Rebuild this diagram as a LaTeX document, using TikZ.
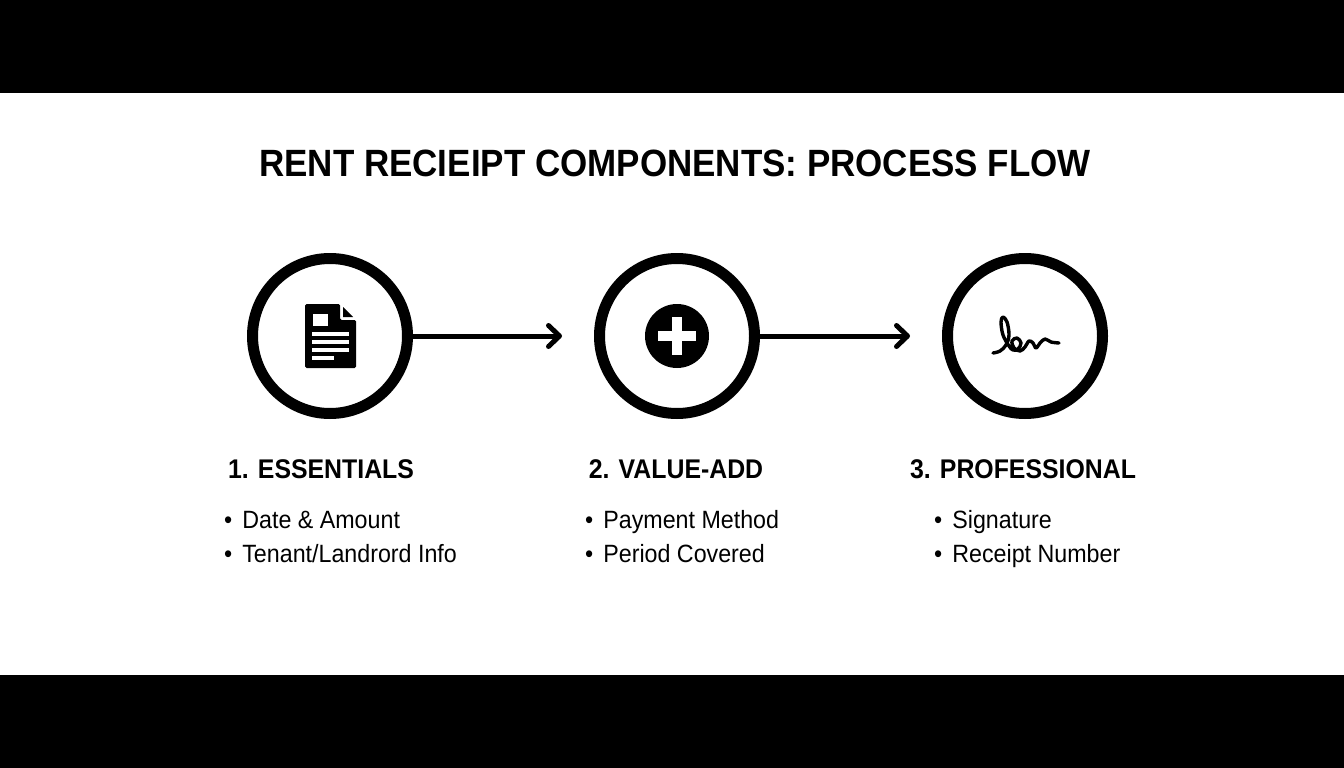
\documentclass[tikz,border=0pt]{standalone}
\usepackage{fontspec}
\setmainfont[FakeStretch=0.92]{Liberation Sans}
\newfontfamily\itemfont[FakeStretch=0.93]{Liberation Sans}
\usetikzlibrary{arrows.meta, positioning}

\begin{document}
\begin{tikzpicture}[x=1pt, y=-1pt, node distance=30pt,
    stage/.style={circle, draw=black, line width=11pt, fill=white, minimum size=155pt, inner sep=0pt},
    arrow/.style={-{Straight Barb[length=11pt, width=21pt, line cap=round, round]}, line width=5pt, black},
    heading/.style={font=\bfseries\fontsize{27}{32}\selectfont, inner sep=0pt, anchor=base},
    item/.style={font=\itemfont\fontsize{25}{29}\selectfont, inner sep=0pt, anchor=base west}]
    \useasboundingbox (0,0) rectangle (1344,768);

    % Bars
    \fill[black] (0,0) rectangle (1344,93);
    \fill[black] (0,675) rectangle (1344,768);

    % Title
    \node[font=\bfseries\fontsize{38}{44}\selectfont, inner sep=0pt, anchor=base] (title) at (675,176) {RENT RECIEIPT COMPONENTS: PROCESS FLOW};

    % Nodes
    \node[stage] (essentials) at (330,336) {};
    \node[stage] (valueadd) at (677,336) {};
    \node[stage] (professional) at (1025,336) {};
    \coordinate (tipone) at (562,336);
    \coordinate (tiptwo) at (910,336);

    % Arrows
    \draw[arrow] (essentials) -- (tipone);
    \draw[arrow] (valueadd) -- (tiptwo);

    % Document icon
    \fill[black, rounded corners=1.5pt] (305,304) -- (340,304) -- (340,320) -- (356,320) -- (356,368) -- (305,368) -- cycle;
    \fill[black] (343,307) -- (353,317) -- (343,317) -- cycle;
    \fill[white] (313,314) rectangle (328,326);
    \foreach \y/\xend in {334/349, 342/349, 350/349, 358/334}
        \fill[white] (312,\y-1.7) rectangle (\xend,\y+1.7);

    % Plus icon
    \fill[black] (valueadd.center) circle[radius=32];
    \fill[white] (658,331) rectangle (696,341);
    \fill[white] (672,317) rectangle (682,355);

    % Signature
    \draw[black, line width=3.4pt, line cap=round, line join=round]
        plot[smooth, tension=0.6] coordinates {(993,353) (1000,351) (1006,345) (1009,335) (1007,322) (1003,317) (1001,322) (1003,335) (1009,346) (1013,350) (1018,349) (1021,343) (1017,338) (1012,341) (1014,348) (1020,351) (1025,347) (1029,341) (1033,343) (1036,348) (1040,343) (1045,339) (1051,342) (1059,343)};

    % Headings
    \node[heading] (headone) at (321,478) {1. ESSENTIALS};
    \node[heading] (headtwo) at (676,478) {2. VALUE-ADD};
    \node[heading] (headthree) at (1023,478) {3. PROFESSIONAL};

    % Lists
    \node[item] (dateitem) at (224,528) {•\hspace{10pt}Date \& Amount};
    \node[item] (tenantitem) at (224,562) {•\hspace{10pt}Tenant/Landrord Info};
    \node[item] (paymentitem) at (585,528) {•\hspace{10pt}Payment Method};
    \node[item] (perioditem) at (585,562) {•\hspace{10pt}Period Covered};
    \node[item] (signatureitem) at (934,528) {•\hspace{10pt}Signature};
    \node[item] (receiptitem) at (934,562) {•\hspace{10pt}Receipt Number};

\end{tikzpicture}
\end{document}
